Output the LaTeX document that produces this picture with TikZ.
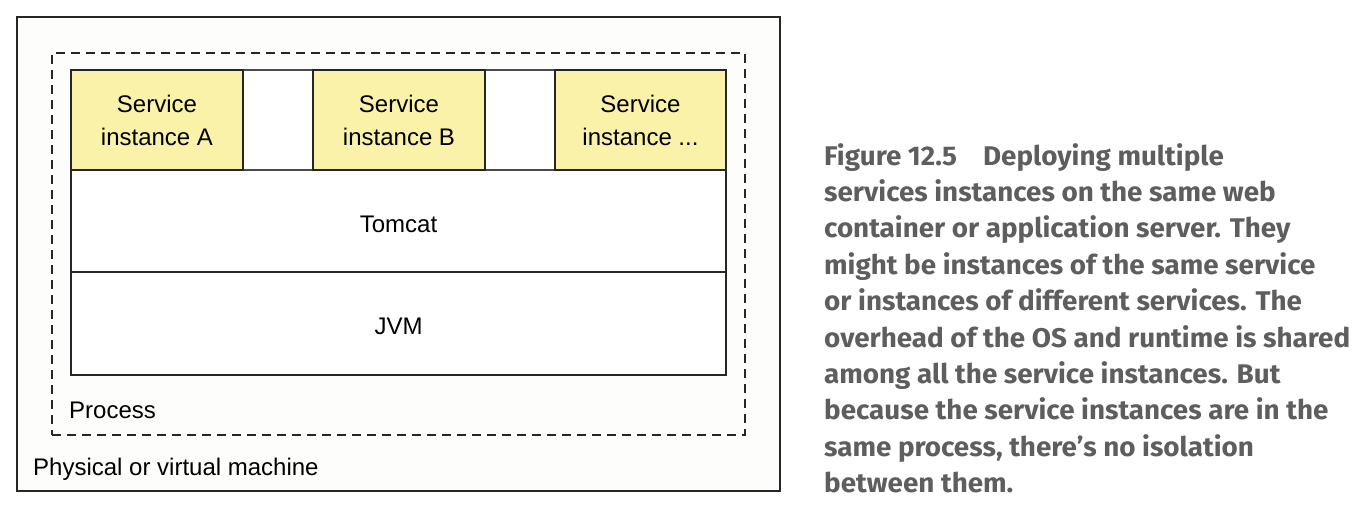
\documentclass[tikz,border=0pt]{standalone}
\usepackage{fontspec}
\setmainfont{Liberation Sans}
\newfontfamily\capfont[FakeStretch=1.03]{Fira Sans Bold}
\definecolor{svcyellow}{HTML}{FAF2A8}
\definecolor{capgray}{HTML}{5E5E5E}
\definecolor{paper}{HTML}{FDFDFB}
\begin{document}
\begin{tikzpicture}[x=1pt,y=-1pt,
  box/.style={draw=black!85,line width=1.4pt,minimum width=#1,inner sep=0pt,outer sep=0pt},
  svc/.style={box=172pt,fill=svcyellow,minimum height=100pt,align=center,font=\fontsize{24}{33}\selectfont},
  gapbox/.style={draw=black!70,line width=1.2pt,fill=white,minimum width=70pt,minimum height=100pt,inner sep=0pt},
  layer/.style={box=655pt,fill=white},
  layertext/.style={label={[yshift=-3pt,font=\fontsize{24}{29}\selectfont]center:#1}},
  lbl/.style={anchor=base west,inner sep=0pt,font=\fontsize{24}{29}\selectfont},
  capline/.style={anchor=base west,inner sep=0pt,text=capgray,font=\capfont\fontsize{27}{30}\selectfont}]
\useasboundingbox (0,0) rectangle (1366,508);
\fill[white] (0,0) rectangle (1366,508);
% outer machine box
\node[draw=black!85,line width=1.4pt,fill=paper,minimum width=763pt,minimum height=474pt,inner sep=0pt] (machine) at (398.5,254) {};
% process (dashed)
\node[draw=black!85,line width=1.2pt,dash pattern=on 9pt off 6pt,minimum width=693pt,minimum height=382pt,inner sep=0pt] (process) at (398.5,244) {};
% layers
\node[layer,minimum height=102pt,layertext=Tomcat] (tomcat) at (398.5,221) {};
\node[layer,minimum height=103pt,layertext=JVM] (jvm) at (398.5,323.5) {};
% service row
\node[gapbox] (gap1) at (278,120) {};
\node[gapbox] (gap2) at (520,120) {};
\node[svc] (svcA) at (157,120) {Service\\instance A};
\node[svc] (svcB) at (399,120) {Service\\instance B};
\node[svc,minimum width=171pt] (svcC) at (640.5,120) {Service\\instance ...};
% labels
\node[lbl] (proclbl) at (69,418) {Process};
\node[lbl] (machlbl) at (33,475) {Physical or virtual machine};
% caption
\node[capline] (c1) at (824,165) {Figure 12.5\hspace{26pt}Deploying multiple};
\node[capline] (c2) at (824,201.4) {services instances on the same web};
\node[capline] (c3) at (824,237.8) {container or application server. They};
\node[capline] (c4) at (824,274.2) {might be instances of the same service};
\node[capline] (c5) at (824,310.6) {or instances of different services. The};
\node[capline] (c6) at (824,347) {overhead of the OS and runtime is shared};
\node[capline] (c7) at (824,383.4) {among all the service instances. But};
\node[capline] (c8) at (824,419.8) {because the service instances are in the};
\node[capline] (c9) at (824,456.2) {same process, there’s no isolation};
\node[capline] (c10) at (824,492.6) {between them.};
\end{tikzpicture}
\end{document}
